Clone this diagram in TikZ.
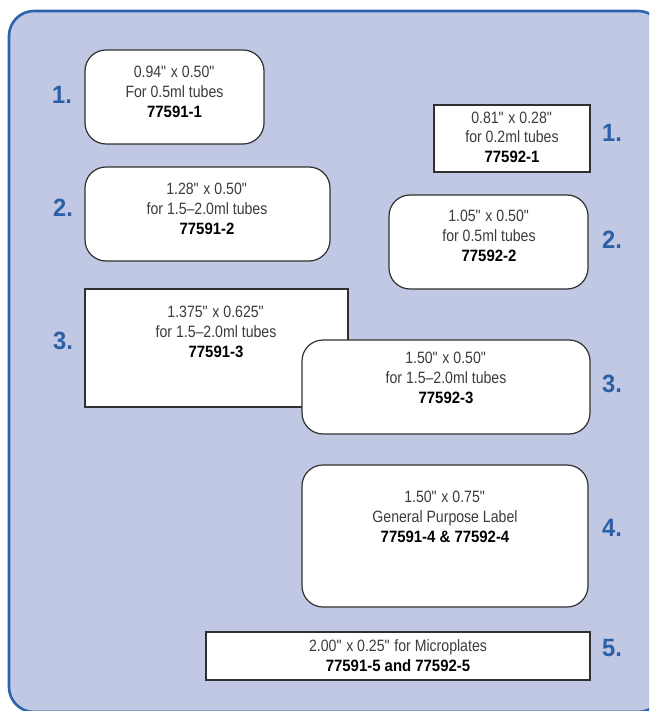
\documentclass[tikz,border=0pt]{standalone}
\usepackage{fontspec}
\setmainfont{Liberation Sans}[FakeStretch=0.86]
\newfontfamily\codefont{Liberation Sans}[FakeStretch=0.91]
\newfontfamily\numfont{Liberation Sans}[FakeStretch=0.95]
\newcommand{\inq}{\textquotedbl}
\newcommand{\code}[1]{\textcolor{black}{\codefont\bfseries #1}}
\definecolor{panelfill}{HTML}{C1C8E3}
\definecolor{panelline}{HTML}{2B63AD}
\definecolor{numblue}{HTML}{2C5FA6}
\definecolor{txtgray}{HTML}{3C3C3C}
\definecolor{boxline}{HTML}{303030}
\begin{document}
\begin{tikzpicture}[x=1pt,y=-1pt,
  rbox/.style={draw=boxline, fill=white, line width=1.2pt, rounded corners=21pt, inner sep=0pt},
  sbox/.style={draw=boxline, fill=white, line width=1.2pt, inner sep=0pt},
  dim/.style={text=txtgray, align=center, inner sep=0pt, font=\fontsize{16.4}{20}\selectfont},
  num/.style={text=numblue, inner sep=0pt, font=\fontsize{25}{25}\selectfont\numfont\bfseries}]
\useasboundingbox (0,0) rectangle (649,711);
\clip (0,0) rectangle (649,711);
\draw[fill=panelfill, draw=panelline, line width=2.6pt, rounded corners=25pt] (9,11) rectangle (663,712);
% left column
\node[rbox, minimum width=179pt, minimum height=94pt] (L1) at (174.5,97) {};
\node[dim] (L1t) at (174.5,91.5) {0.94\inq{} x 0.50\inq\\For 0.5ml tubes\\\code{77591-1}};
\node[num] (L1n) at (62,95) {1.};
\node[rbox, minimum width=245pt, minimum height=94pt] (L2) at (207.5,214) {};
\node[dim] (L2t) at (207,209) {1.28\inq{} x 0.50\inq\\for 1.5–2.0ml tubes\\\code{77591-2}};
\node[num] (L2n) at (63,208) {2.};
\node[sbox, minimum width=263pt, minimum height=118pt] (L3) at (216.5,348) {};
\node[dim] (L3t) at (216,332) {1.375\inq{} x 0.625\inq\\for 1.5–2.0ml tubes\\\code{77591-3}};
\node[num] (L3n) at (63,341) {3.};
% right column
\node[sbox, minimum width=156pt, minimum height=67pt] (R1) at (512,138.5) {};
\node[dim, font=\fontsize{16.4}{19.5}\selectfont] (R1t) at (512,137) {0.81\inq{} x 0.28\inq\\for 0.2ml tubes\\\code{77592-1}};
\node[num] (R1n) at (612,133) {1.};
\node[rbox, minimum width=199pt, minimum height=94pt] (R2) at (488.5,242) {};
\node[dim] (R2t) at (489,236) {1.05\inq{} x 0.50\inq\\for 0.5ml tubes\\\code{77592-2}};
\node[num] (R2n) at (612,240) {2.};
\node[rbox, minimum width=288pt, minimum height=94pt] (R3) at (446,387) {};
\node[dim] (R3t) at (446,378) {1.50\inq{} x 0.50\inq\\for 1.5–2.0ml tubes\\\code{77592-3}};
\node[num] (R3n) at (612,384) {3.};
\node[rbox, minimum width=286pt, minimum height=142pt] (R4) at (445,536) {};
\node[dim] (R4t) at (445,516.5) {1.50\inq{} x 0.75\inq\\General Purpose Label\\\code{77591-4 \& 77592-4}};
\node[num] (R4n) at (612,528) {4.};
\node[sbox, minimum width=384pt, minimum height=48pt] (R5) at (398,656) {};
\node[dim] (R5t) at (398,656) {2.00\inq{} x 0.25\inq{} for Microplates\\\code{77591-5 and 77592-5}};
\node[num] (R5n) at (612,648) {5.};
\end{tikzpicture}
\end{document}
